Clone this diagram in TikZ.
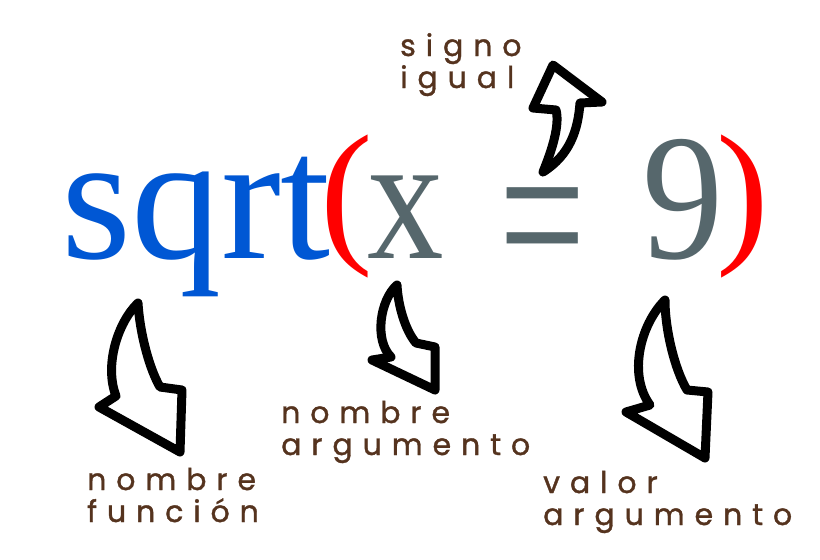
\documentclass[tikz,border=0pt]{standalone}
\usepackage{fontspec}
\setmainfont{Liberation Serif}
\newfontfamily\handfont[LetterSpace=33,FakeBold=1.2]{Poppins}
\definecolor{fnblue}{RGB}{0,87,212}
\definecolor{argrey}{RGB}{86,103,108}
\definecolor{parred}{RGB}{255,0,0}
\definecolor{lblbrown}{RGB}{85,51,30}
\tikzset{
  big/.style={inner sep=0pt, anchor=base, font=\fontsize{180}{180}\selectfont},
  par/.style={inner sep=0pt, anchor=base, font=\fontsize{158}{158}\selectfont, text=parred},
  lbl/.style={inner sep=0pt, anchor=base west, align=left, text=lblbrown,
    font=\handfont\fontsize{30}{32}\selectfont},
  blockarrow/.style={draw=black, line width=9pt, line join=round, line cap=round, fill=white}
}
\begin{document}
\begin{tikzpicture}[x=1pt,y=-1pt]
\useasboundingbox[fill=white] (0,0) rectangle (820,560);
% formula
\node[big, text=fnblue] (fn) at (196,258) {sqrt};
\node[par] (lp) at (347,244) {\makebox[30pt]{(}};
\node[big, text=argrey] (var) at (406,258) {\scalebox{0.85}[1]{x}};
\node[big, text=argrey] (eq) at (543,290) {\scalebox{0.85}[1.25]{=}};
\node[big, text=argrey] (val) at (683,258) {\scalebox{0.9}[1]{9}};
\node[par] (rp) at (743,244) {\makebox[30pt]{)}};
% labels
\node[lbl] (lsig) at (400,88) {signo\\igual};
\node[lbl] (lfn) at (87,522) {nombre\\función};
\node[lbl] (lvar) at (281,455) {nombre\\argumento};
\node[lbl] (lval) at (543,525) {valor\\argumento};
% arrows
\draw[blockarrow] (138,303) .. controls (118,322) and (104,365) .. (116,396)
  -- (99,407) -- (180,452) -- (182,390) -- (160,387)
  .. controls (150,370) and (140,335) .. cycle;
\draw[blockarrow] (397,285) .. controls (380,300) and (374,340) .. (391,357)
  -- (372,360) -- (435,390) -- (435,347) -- (416,343)
  .. controls (405,330) and (398,305) .. cycle;
\draw[blockarrow] (665,300) .. controls (640,325) and (628,375) .. (650,405)
  -- (626,412) -- (705,458) -- (708,392) -- (687,390)
  .. controls (675,370) and (665,330) .. cycle;
\draw[blockarrow] (543,172) .. controls (552,150) and (560,125) .. (556,110)
  -- (533,108) -- (553,65) -- (602,102) -- (580,103)
  .. controls (578,130) and (570,155) .. cycle;
\end{tikzpicture}
\end{document}
